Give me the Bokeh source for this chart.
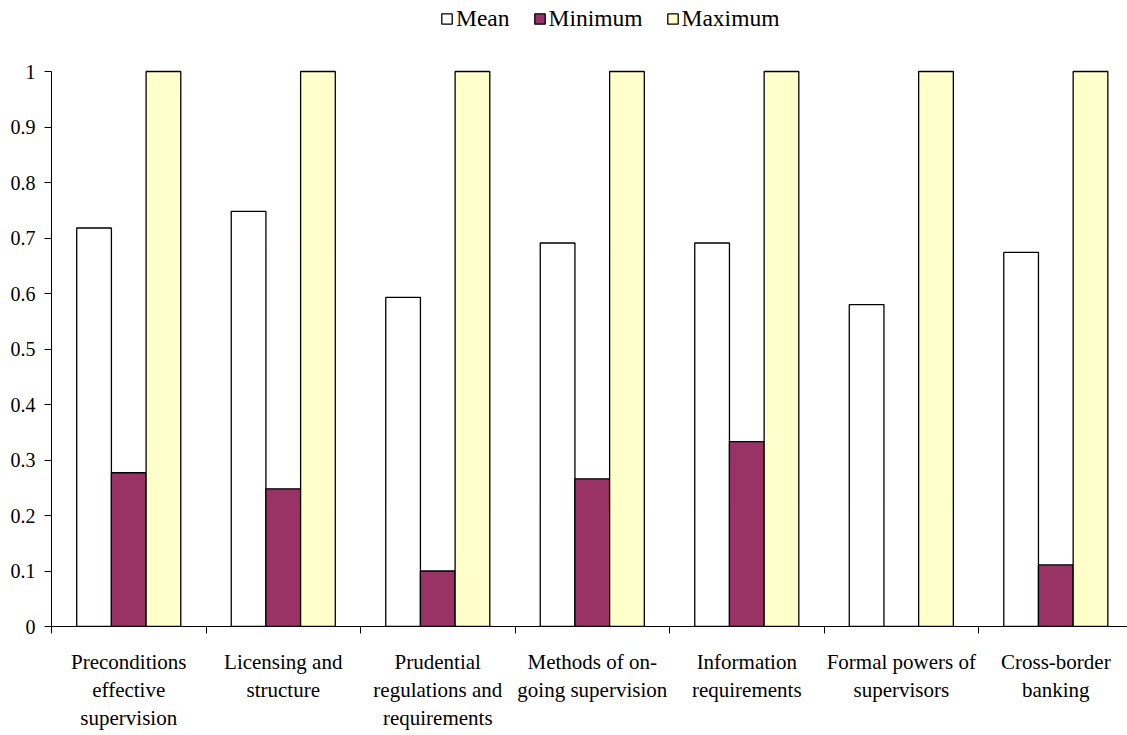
from bokeh.plotting import figure
from bokeh.models import Range1d, FixedTicker, Legend, LegendItem, ColumnDataSource
from bokeh.transform import dodge
from bokeh.embed import file_html
from bokeh.resources import INLINE

# ---- data ----
categories = [
    "Preconditions\neffective\nsupervision",
    "Licensing and\nstructure",
    "Prudential\nregulations and\nrequirements",
    "Methods of on-\ngoing supervision",
    "Information\nrequirements",
    "Formal powers of\nsupervisors",
    "Cross-border\nbanking",
]
mean_vals = [0.718, 0.748, 0.593, 0.691, 0.691, 0.580, 0.674]
min_vals = [0.277, 0.248, 0.100, 0.266, 0.333, 0.0, 0.111]
max_vals = [1.0, 1.0, 1.0, 1.0, 1.0, 1.0, 1.0]
series_names = ["Mean", "Minimum", "Maximum"]
series_colors = ["#FFFFFF", "#993366", "#FFFFCC"]
y_ticks = [0, 0.1, 0.2, 0.3, 0.4, 0.5, 0.6, 0.7, 0.8, 0.9, 1.0]
y_tick_labels = ["0", "0.1", "0.2", "0.3", "0.4", "0.5", "0.6", "0.7", "0.8", "0.9", "1"]

FONT = "Liberation Serif"

centers = [i + 0.5 for i in range(len(categories))]
source = ColumnDataSource(dict(x=centers, mean=mean_vals, minv=min_vals, maxv=max_vals))

# frame covers the full height above the x axis (legend lives inside it);
# the y axis line is bounded to 0..1
p = figure(
    width=1127, height=735,
    x_range=Range1d(0, 6.964), y_range=Range1d(0, 1 + 71 / 555),
    output_backend="svg", toolbar_location=None,
    min_border_left=51, min_border_right=0, min_border_top=0, min_border_bottom=109,
)
p.outline_line_color = None
p.xgrid.visible = False
p.ygrid.visible = False
p.background_fill_color = "white"
p.border_fill_color = "white"

bw = 0.2245
renderers = []
for off, col, color in zip([-bw, 0.0, bw], ["mean", "minv", "maxv"], series_colors):
    r = p.vbar(x=dodge("x", off, range=p.x_range), top=col, bottom=0, width=bw,
               source=source, fill_color=color, line_color="black", line_width=1.3)
    renderers.append(r)

# x axis
xa = p.xaxis[0]
xa.ticker = FixedTicker(ticks=centers, minor_ticks=list(range(len(categories) + 1)))
xa.major_label_overrides = {c: lab for c, lab in zip(centers, categories)}
xa.major_tick_line_color = None
xa.major_tick_out = 0
xa.major_tick_in = 0
xa.minor_tick_out = 7
xa.minor_tick_in = 0
xa.minor_tick_line_color = "black"
xa.axis_line_color = "black"
xa.major_label_text_font = FONT
xa.major_label_text_font_size = "21px"
xa.major_label_text_color = "black"
xa.major_label_text_line_height = 1.17
xa.major_label_standoff = 16

# y axis
ya = p.yaxis[0]
ya.bounds = (0, 1)
ya.ticker = FixedTicker(ticks=y_ticks, minor_ticks=[])
ya.major_label_overrides = {t: lab for t, lab in zip(y_ticks, y_tick_labels)}
ya.major_tick_out = 7
ya.major_tick_in = 0
ya.major_tick_line_color = "black"
ya.axis_line_color = "black"
ya.major_label_text_font = FONT
ya.major_label_text_font_size = "20px"
ya.major_label_text_color = "black"
ya.major_label_standoff = 9

legend = Legend(
    items=[LegendItem(label=n, renderers=[r]) for n, r in zip(series_names, renderers)],
    orientation="horizontal",
    location=(389, 594),
    glyph_width=13, glyph_height=13,
    label_standoff=3, spacing=23,
    padding=0, margin=0,
    border_line_color=None, background_fill_alpha=0,
    label_text_font=FONT, label_text_font_size="23.5px", label_text_color="black",
)
p.add_layout(legend)

open("out.html", "w").write(file_html(p, INLINE))
